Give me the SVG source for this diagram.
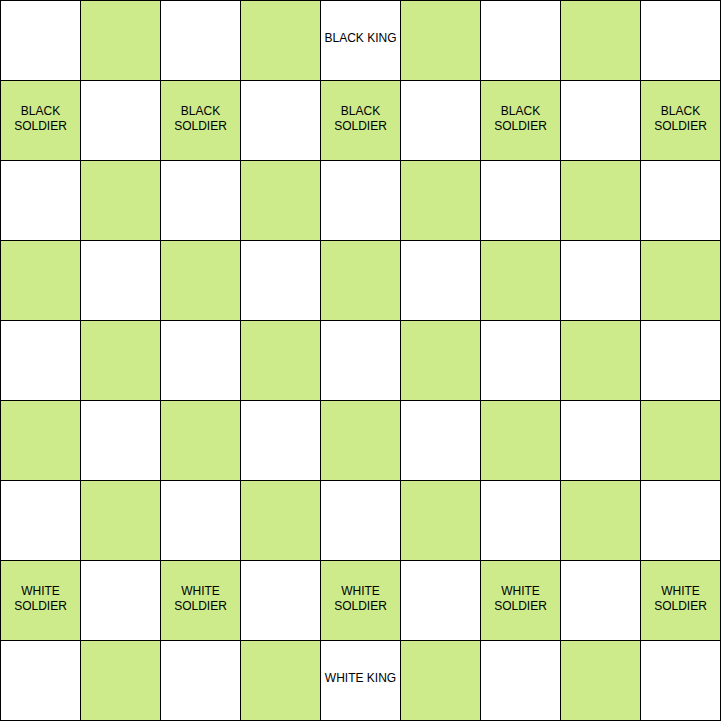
<svg xmlns="http://www.w3.org/2000/svg" width="721" height="721" viewBox="0 0 721 721">
<style>
rect{stroke:#000;stroke-width:1}
.w{fill:#ffffff}
.g{fill:#cdeb8b}
text{font-family:"Liberation Sans",Arial,sans-serif;font-size:12px;fill:#000;text-anchor:middle}
</style>
<rect x="0" y="0" width="721" height="721" fill="#fff" stroke="none"/>
<g id="row0">
<g id="c0-0"><rect class="w" x="0.5" y="0.5" width="80" height="80"/></g>
<g id="c0-1"><rect class="g" x="80.5" y="0.5" width="80" height="80"/></g>
<g id="c0-2"><rect class="w" x="160.5" y="0.5" width="80" height="80"/></g>
<g id="c0-3"><rect class="g" x="240.5" y="0.5" width="80" height="80"/></g>
<g id="c0-4"><rect class="w" x="320.5" y="0.5" width="80" height="80"/><text x="360.5" y="42">BLACK KING</text></g>
<g id="c0-5"><rect class="g" x="400.5" y="0.5" width="80" height="80"/></g>
<g id="c0-6"><rect class="w" x="480.5" y="0.5" width="80" height="80"/></g>
<g id="c0-7"><rect class="g" x="560.5" y="0.5" width="80" height="80"/></g>
<g id="c0-8"><rect class="w" x="640.5" y="0.5" width="80" height="80"/></g>
</g>
<g id="row1">
<g id="c1-0"><rect class="g" x="0.5" y="80.5" width="80" height="80"/><text x="40.5" y="115">BLACK</text><text x="40.5" y="130">SOLDIER</text></g>
<g id="c1-1"><rect class="w" x="80.5" y="80.5" width="80" height="80"/></g>
<g id="c1-2"><rect class="g" x="160.5" y="80.5" width="80" height="80"/><text x="200.5" y="115">BLACK</text><text x="200.5" y="130">SOLDIER</text></g>
<g id="c1-3"><rect class="w" x="240.5" y="80.5" width="80" height="80"/></g>
<g id="c1-4"><rect class="g" x="320.5" y="80.5" width="80" height="80"/><text x="360.5" y="115">BLACK</text><text x="360.5" y="130">SOLDIER</text></g>
<g id="c1-5"><rect class="w" x="400.5" y="80.5" width="80" height="80"/></g>
<g id="c1-6"><rect class="g" x="480.5" y="80.5" width="80" height="80"/><text x="520.5" y="115">BLACK</text><text x="520.5" y="130">SOLDIER</text></g>
<g id="c1-7"><rect class="w" x="560.5" y="80.5" width="80" height="80"/></g>
<g id="c1-8"><rect class="g" x="640.5" y="80.5" width="80" height="80"/><text x="680.5" y="115">BLACK</text><text x="680.5" y="130">SOLDIER</text></g>
</g>
<g id="row2">
<g id="c2-0"><rect class="w" x="0.5" y="160.5" width="80" height="80"/></g>
<g id="c2-1"><rect class="g" x="80.5" y="160.5" width="80" height="80"/></g>
<g id="c2-2"><rect class="w" x="160.5" y="160.5" width="80" height="80"/></g>
<g id="c2-3"><rect class="g" x="240.5" y="160.5" width="80" height="80"/></g>
<g id="c2-4"><rect class="w" x="320.5" y="160.5" width="80" height="80"/></g>
<g id="c2-5"><rect class="g" x="400.5" y="160.5" width="80" height="80"/></g>
<g id="c2-6"><rect class="w" x="480.5" y="160.5" width="80" height="80"/></g>
<g id="c2-7"><rect class="g" x="560.5" y="160.5" width="80" height="80"/></g>
<g id="c2-8"><rect class="w" x="640.5" y="160.5" width="80" height="80"/></g>
</g>
<g id="row3">
<g id="c3-0"><rect class="g" x="0.5" y="240.5" width="80" height="80"/></g>
<g id="c3-1"><rect class="w" x="80.5" y="240.5" width="80" height="80"/></g>
<g id="c3-2"><rect class="g" x="160.5" y="240.5" width="80" height="80"/></g>
<g id="c3-3"><rect class="w" x="240.5" y="240.5" width="80" height="80"/></g>
<g id="c3-4"><rect class="g" x="320.5" y="240.5" width="80" height="80"/></g>
<g id="c3-5"><rect class="w" x="400.5" y="240.5" width="80" height="80"/></g>
<g id="c3-6"><rect class="g" x="480.5" y="240.5" width="80" height="80"/></g>
<g id="c3-7"><rect class="w" x="560.5" y="240.5" width="80" height="80"/></g>
<g id="c3-8"><rect class="g" x="640.5" y="240.5" width="80" height="80"/></g>
</g>
<g id="row4">
<g id="c4-0"><rect class="w" x="0.5" y="320.5" width="80" height="80"/></g>
<g id="c4-1"><rect class="g" x="80.5" y="320.5" width="80" height="80"/></g>
<g id="c4-2"><rect class="w" x="160.5" y="320.5" width="80" height="80"/></g>
<g id="c4-3"><rect class="g" x="240.5" y="320.5" width="80" height="80"/></g>
<g id="c4-4"><rect class="w" x="320.5" y="320.5" width="80" height="80"/></g>
<g id="c4-5"><rect class="g" x="400.5" y="320.5" width="80" height="80"/></g>
<g id="c4-6"><rect class="w" x="480.5" y="320.5" width="80" height="80"/></g>
<g id="c4-7"><rect class="g" x="560.5" y="320.5" width="80" height="80"/></g>
<g id="c4-8"><rect class="w" x="640.5" y="320.5" width="80" height="80"/></g>
</g>
<g id="row5">
<g id="c5-0"><rect class="g" x="0.5" y="400.5" width="80" height="80"/></g>
<g id="c5-1"><rect class="w" x="80.5" y="400.5" width="80" height="80"/></g>
<g id="c5-2"><rect class="g" x="160.5" y="400.5" width="80" height="80"/></g>
<g id="c5-3"><rect class="w" x="240.5" y="400.5" width="80" height="80"/></g>
<g id="c5-4"><rect class="g" x="320.5" y="400.5" width="80" height="80"/></g>
<g id="c5-5"><rect class="w" x="400.5" y="400.5" width="80" height="80"/></g>
<g id="c5-6"><rect class="g" x="480.5" y="400.5" width="80" height="80"/></g>
<g id="c5-7"><rect class="w" x="560.5" y="400.5" width="80" height="80"/></g>
<g id="c5-8"><rect class="g" x="640.5" y="400.5" width="80" height="80"/></g>
</g>
<g id="row6">
<g id="c6-0"><rect class="w" x="0.5" y="480.5" width="80" height="80"/></g>
<g id="c6-1"><rect class="g" x="80.5" y="480.5" width="80" height="80"/></g>
<g id="c6-2"><rect class="w" x="160.5" y="480.5" width="80" height="80"/></g>
<g id="c6-3"><rect class="g" x="240.5" y="480.5" width="80" height="80"/></g>
<g id="c6-4"><rect class="w" x="320.5" y="480.5" width="80" height="80"/></g>
<g id="c6-5"><rect class="g" x="400.5" y="480.5" width="80" height="80"/></g>
<g id="c6-6"><rect class="w" x="480.5" y="480.5" width="80" height="80"/></g>
<g id="c6-7"><rect class="g" x="560.5" y="480.5" width="80" height="80"/></g>
<g id="c6-8"><rect class="w" x="640.5" y="480.5" width="80" height="80"/></g>
</g>
<g id="row7">
<g id="c7-0"><rect class="g" x="0.5" y="560.5" width="80" height="80"/><text x="40.5" y="595">WHITE</text><text x="40.5" y="610">SOLDIER</text></g>
<g id="c7-1"><rect class="w" x="80.5" y="560.5" width="80" height="80"/></g>
<g id="c7-2"><rect class="g" x="160.5" y="560.5" width="80" height="80"/><text x="200.5" y="595">WHITE</text><text x="200.5" y="610">SOLDIER</text></g>
<g id="c7-3"><rect class="w" x="240.5" y="560.5" width="80" height="80"/></g>
<g id="c7-4"><rect class="g" x="320.5" y="560.5" width="80" height="80"/><text x="360.5" y="595">WHITE</text><text x="360.5" y="610">SOLDIER</text></g>
<g id="c7-5"><rect class="w" x="400.5" y="560.5" width="80" height="80"/></g>
<g id="c7-6"><rect class="g" x="480.5" y="560.5" width="80" height="80"/><text x="520.5" y="595">WHITE</text><text x="520.5" y="610">SOLDIER</text></g>
<g id="c7-7"><rect class="w" x="560.5" y="560.5" width="80" height="80"/></g>
<g id="c7-8"><rect class="g" x="640.5" y="560.5" width="80" height="80"/><text x="680.5" y="595">WHITE</text><text x="680.5" y="610">SOLDIER</text></g>
</g>
<g id="row8">
<g id="c8-0"><rect class="w" x="0.5" y="640.5" width="80" height="80"/></g>
<g id="c8-1"><rect class="g" x="80.5" y="640.5" width="80" height="80"/></g>
<g id="c8-2"><rect class="w" x="160.5" y="640.5" width="80" height="80"/></g>
<g id="c8-3"><rect class="g" x="240.5" y="640.5" width="80" height="80"/></g>
<g id="c8-4"><rect class="w" x="320.5" y="640.5" width="80" height="80"/><text x="360.5" y="682">WHITE KING</text></g>
<g id="c8-5"><rect class="g" x="400.5" y="640.5" width="80" height="80"/></g>
<g id="c8-6"><rect class="w" x="480.5" y="640.5" width="80" height="80"/></g>
<g id="c8-7"><rect class="g" x="560.5" y="640.5" width="80" height="80"/></g>
<g id="c8-8"><rect class="w" x="640.5" y="640.5" width="80" height="80"/></g>
</g>
</svg>
